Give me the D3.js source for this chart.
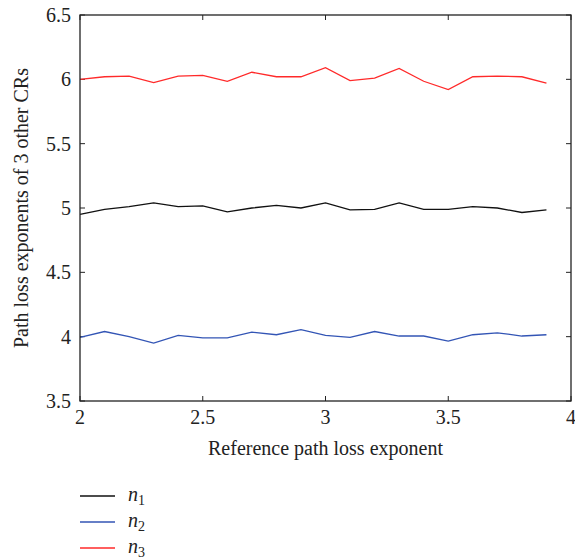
<!DOCTYPE html>
<html><head><meta charset="utf-8">
<script src="https://cdn.jsdelivr.net/npm/d3@7"></script>
<style>body{margin:0;background:#fff}svg{display:block}</style>
</head><body>
<svg id="c" width="575" height="560"></svg>
<script>
const xValues = [2.0,2.1,2.2,2.3,2.4,2.5,2.6,2.7,2.8,2.9,3.0,3.1,3.2,3.3,3.4,3.5,3.6,3.7,3.8,3.9];
const n1 = [4.95,4.99,5.01,5.04,5.01,5.017,4.97,5.0,5.02,5.0,5.04,4.985,4.99,5.04,4.99,4.99,5.01,5.0,4.965,4.985];
const n2 = [3.995,4.04,4.0,3.95,4.01,3.99,3.99,4.035,4.015,4.055,4.01,3.995,4.04,4.005,4.005,3.965,4.015,4.03,4.005,4.015];
const n3 = [6.0,6.02,6.025,5.975,6.025,6.03,5.985,6.055,6.02,6.02,6.09,5.99,6.01,6.085,5.985,5.92,6.02,6.025,6.02,5.97];
const xTicks = [2,2.5,3,3.5,4];
const yTicks = [3.5,4,4.5,5,5.5,6,6.5];
const seriesNames = ["1","2","3"];
const seriesColors = ["#111111","#3355b5","#ff2a2a"];

const svg = d3.select("#c");
const L=80,R=571,T=15,B=401;
const x = d3.scaleLinear().domain([2,4]).range([L,R]);
const y = d3.scaleLinear().domain([3.5,6.5]).range([B,T]);
const font = "'Liberation Serif', 'DejaVu Serif', serif";
const fs = 20;

// ticks inward
const tl = 5;
const g = svg.append("g").attr("stroke","#222").attr("stroke-width",1);
xTicks.forEach(t=>{
  g.append("line").attr("x1",x(t)).attr("x2",x(t)).attr("y1",B).attr("y2",B-tl);
  g.append("line").attr("x1",x(t)).attr("x2",x(t)).attr("y1",T).attr("y2",T+tl);
});
yTicks.forEach(t=>{
  g.append("line").attr("y1",y(t)).attr("y2",y(t)).attr("x1",L).attr("x2",L+tl);
  g.append("line").attr("y1",y(t)).attr("y2",y(t)).attr("x1",R).attr("x2",R-tl);
});

const line = d3.line().x((d,i)=>x(xValues[i])).y(d=>y(d));
[n1,n2,n3].forEach((s,k)=>{
  svg.append("path").datum(s).attr("d",line).attr("fill","none")
    .attr("stroke",seriesColors[k]).attr("stroke-width",1.3);
});

svg.append("rect").attr("x",L).attr("y",T).attr("width",R-L).attr("height",B-T)
  .attr("fill","none").attr("stroke","#222").attr("stroke-width",1.3);

// tick labels
svg.append("g").selectAll("text").data(xTicks).join("text")
  .attr("x",d=>x(d)).attr("y",B+23).attr("text-anchor","middle")
  .attr("font-family",font).attr("font-size",fs).attr("fill","#222")
  .text(d=>d3.format("")(d));
svg.append("g").selectAll("text").data(yTicks).join("text")
  .attr("x",L-9).attr("y",d=>y(d)+7).attr("text-anchor","end")
  .attr("font-family",font).attr("font-size",fs).attr("fill","#222")
  .text(d=>d3.format("")(d));

svg.append("text").attr("x",(L+R)/2).attr("y",455).attr("text-anchor","middle")
  .attr("font-family",font).attr("font-size",fs).attr("fill","#222")
  .text("Reference path loss exponent");
svg.append("text").attr("transform",`translate(28,${(T+B)/2}) rotate(-90)`)
  .attr("text-anchor","middle")
  .attr("font-family",font).attr("font-size",fs).attr("fill","#222")
  .text("Path loss exponents of 3 other CRs");

// legend
const ly = [496,522,548];
seriesNames.forEach((nm,k)=>{
  svg.append("line").attr("x1",80).attr("x2",115).attr("y1",ly[k]).attr("y2",ly[k])
    .attr("stroke",seriesColors[k]).attr("stroke-width",1.3);
  const t = svg.append("text").attr("x",128).attr("y",ly[k]+5)
    .attr("font-family",font).attr("font-size",fs).attr("fill","#222");
  t.append("tspan").attr("font-style","italic").text("n");
  t.append("tspan").attr("font-size",14).attr("dy",4).text(nm);
});
</script>
</body></html>
